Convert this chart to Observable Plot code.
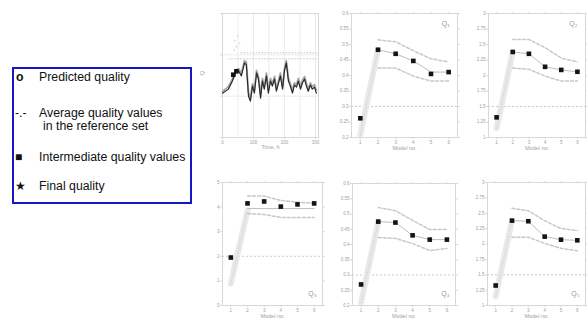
<!DOCTYPE html>
<html><head><meta charset="utf-8">
<script src="https://cdn.jsdelivr.net/npm/d3@7"></script>
<script src="https://cdn.jsdelivr.net/npm/@observablehq/plot@0.6"></script>
<style>
html,body{margin:0;padding:0;background:#fff;}
body{width:587px;height:321px;position:relative;overflow:hidden;font-family:"Liberation Sans",Arial,sans-serif;}
.panel{position:absolute;}
#legend{position:absolute;left:12px;top:67px;width:176px;height:133px;border:2px solid #1616c4;}
.li{position:absolute;font-size:12.3px;line-height:13px;color:#111;white-space:nowrap;}
</style></head><body>
<div id="legend"></div>
<div class="li" style="left:16px;top:71px;font-weight:bold;">o</div>
<div class="li" style="left:39px;top:71px;">Predicted quality</div>
<div class="li" style="left:15px;top:107px;">-.-</div>
<div class="li" style="left:39px;top:107px;">Average quality values</div>
<div class="li" style="left:43px;top:120px;">in the reference set</div>
<div class="li" style="left:15px;top:151px;font-size:12px;">■</div>
<div class="li" style="left:39px;top:151px;">Intermediate quality values</div>
<div class="li" style="left:15px;top:180px;font-size:12px;">★</div>
<div class="li" style="left:39px;top:180px;">Final quality</div>
<div id="p1" class="panel" style="left:190px;top:0px"></div>
<div id="p2" class="panel" style="left:330px;top:0px"></div>
<div id="p3" class="panel" style="left:460px;top:0px"></div>
<div id="p4" class="panel" style="left:190px;top:160px"></div>
<div id="p5" class="panel" style="left:330px;top:160px"></div>
<div id="p6" class="panel" style="left:460px;top:160px"></div>
<script>
// ---------- Data: time series panel ----------
const timeH = [0,19,32,42,52,61,71,77,84,90,97,103,110,116,123,129,135,142,148,155,161,168,174,181,187,194,200,206,213,219,226,232,239,245,252,258,265,271,277,284,290,297,303];
const measuredQ = [0.118,0.148,0.232,0.364,0.407,0.308,0.638,0.570,0.100,0.076,0.175,0.118,0.364,0.260,0.089,0.232,0.148,0.308,0.118,0.232,0.175,0.260,0.132,0.208,0.308,0.148,0.407,0.638,0.232,0.175,0.118,0.186,0.166,0.232,0.148,0.208,0.260,0.175,0.132,0.186,0.148,0.166,0.118];
const predictedQ = [0.13,0.17,0.26,0.42,0.46,0.36,0.72,0.66,0.12,0.09,0.20,0.14,0.42,0.30,0.11,0.27,0.17,0.36,0.14,0.27,0.20,0.30,0.15,0.24,0.36,0.17,0.47,0.72,0.27,0.20,0.14,0.21,0.19,0.27,0.17,0.24,0.30,0.20,0.15,0.21,0.17,0.19,0.14];
const scatterT = [38,40,45,50,55];
const scatterQ = [1.3,2.2,1.6,2.8,1.9];
const blobT = [35,45];
const blobQ = [0.33,0.40];
const refLevelsQ = [0.8,1.12];
const refStartT = [20,60];
const refEndT = [310,310];
const timeTicks = [0,100,200,300];
const timeGrid = [0,50,100,150,200,250,300];
const decadeTicks = [0.01,0.1,1,10];
const decadeLabels = ["10⁻²","10⁻¹","10⁰","10¹"];

// ---------- Data: model panels ----------
const models = [1,2,3,4,5,6];
const bandModels = [2,3,4,5,6];
const panelLabels = ["Q₁","Q₂","Q₃","Q₄","Q₅"];

const q1Pts = [0.262,0.483,0.470,0.447,0.405,0.411];
const q1Up = [0.515,0.509,0.480,0.454,0.444];
const q1Lo = [0.424,0.424,0.398,0.382,0.382];
const q1Line = [0.483,0.470,0.447,0.411,0.411];
const q1Pred = [0.21,0.483];
const q1Ref = 0.30;

const q2Pts = [1.325,2.38,2.35,2.14,2.09,2.06];
const q2Up = [2.58,2.58,2.45,2.28,2.22];
const q2Lo = [2.12,2.10,1.99,1.91,1.91];
const q2Line = [2.38,2.35,2.14,2.09,2.06];
const q2Pred = [1.15,2.38];
const q2Ref = 1.5;

const q3Pts = [1.95,4.15,4.23,4.02,4.11,4.15];
const q3Up = [4.45,4.45,4.27,4.20,4.15];
const q3Lo = [3.74,3.70,3.58,3.58,3.58];
const q3Line = [3.94,3.94,3.94,3.94,3.94];
const q3Pred = [0.89,3.86];
const q3Ref = 2;

const q4Pts = [0.269,0.475,0.472,0.430,0.416,0.416];
const q4Up = [0.521,0.511,0.479,0.449,0.449];
const q4Lo = [0.423,0.420,0.403,0.380,0.387];
const q4Line = [0.475,0.472,0.430,0.416,0.416];
const q4Pred = [0.21,0.475];
const q4Ref = 0.30;

const q5Pts = [1.325,2.38,2.37,2.12,2.07,2.06];
const q5Up = [2.58,2.54,2.38,2.25,2.22];
const q5Lo = [2.11,2.11,2.01,1.93,1.89];
const q5Line = [2.38,2.37,2.12,2.07,2.06];
const q5Pred = [1.15,2.38];
const q5Ref = 1.5;

const ticksA = [0.2,0.25,0.3,0.35,0.4,0.45,0.5,0.55,0.6];
const ticksB = [1,1.25,1.5,1.75,2,2.25,2.5,2.75,3];
const ticksC = [0,1,2,3,4,5];

const TXT = "#a0a0a0";
const FRAME = "#d8d8d8";
const baseStyle = {fontSize:"4.5px", fontFamily:"Liberation Sans, Arial, sans-serif", color:TXT, background:"transparent", overflow:"visible"};
const fmt = d => String(+d.toFixed(2));

// ---------- Panel 1: time series ----------
{
  const main = timeH.map((t,i)=>({t, q:measuredQ[i]}));
  const pred = timeH.map((t,i)=>({t, q:predictedQ[i]}));
  const scat = scatterT.map((t,i)=>({t, q:scatterQ[i]}));
  const blobs = blobT.map((t,i)=>({t, q:blobQ[i]}));
  const refs = refLevelsQ.map((q,i)=>({q, t1:refStartT[i], t2:refEndT[i]}));
  const p = Plot.plot({
    width:135, height:160, marginLeft:32, marginRight:7, marginTop:13, marginBottom:23,
    x:{domain:[0,310]}, y:{type:"log", domain:[0.01,10]},
    style: baseStyle,
    marks:[
      Plot.gridX(timeGrid, {stroke:"#ebebeb", strokeOpacity:1}),
      Plot.gridY(decadeTicks, {stroke:"#ebebeb", strokeOpacity:1}),
      Plot.frame({stroke:FRAME}),
      Plot.axisX({ticks:timeTicks, tickSize:2, tickPadding:1, tickFormat:d3.format("d"), label:null, stroke:FRAME}),
      Plot.axisY({ticks:decadeTicks, tickFormat:(d,i)=>decadeLabels[i], tickSize:2, tickPadding:1, label:null, stroke:FRAME}),
      Plot.ruleY(refs, {y:"q", x1:"t1", x2:"t2", stroke:"#c4c4c4", strokeDasharray:"1.5,1.5"}),
      Plot.dot(scat, {x:"t", y:"q", r:0.8, fill:"#d0d0d0"}),
      Plot.line(pred, {x:"t", y:"q", stroke:"#a8a8a8", strokeWidth:1.8}),
      Plot.line(main, {x:"t", y:"q", stroke:"#2a2a2a", strokeWidth:1.2}),
      Plot.dot(blobs, {x:"t", y:"q", symbol:"square", r:2.6, fill:"#111"}),
      Plot.text(["Time, h"], {frameAnchor:"bottom", dy:11, fill:TXT, fontSize:5.5}),
      Plot.text(["Q"], {frameAnchor:"left", dx:-20, rotate:-90, fill:TXT, fontSize:6})
    ]
  });
  document.getElementById("p1").append(p);
}

// ---------- Model panels ----------
function modelPanel(id, cfg){
  const pts = models.map((m,i)=>({m, v:cfg.pts[i]}));
  const up = bandModels.map((m,i)=>({m, v:cfg.up[i]}));
  const lo = bandModels.map((m,i)=>({m, v:cfg.lo[i]}));
  const ln = bandModels.map((m,i)=>({m, v:cfg.line[i]}));
  const pr = [{m:models[0], v:cfg.pred[0]},{m:models[1], v:cfg.pred[1]}];
  const topLabel = cfg.labelAt === "top";
  const p = Plot.plot({
    width:cfg.w, height:cfg.h, marginLeft:cfg.ml, marginRight:cfg.mr, marginTop:cfg.mt, marginBottom:cfg.mb,
    x:{domain:[0.5,6.5]}, y:{domain:cfg.dom},
    style: baseStyle,
    marks:[
      Plot.frame({stroke:FRAME}),
      Plot.axisX({ticks:models, tickSize:2, tickPadding:1, tickFormat:d3.format("d"), label:null, stroke:FRAME}),
      Plot.axisX({anchor:"top", ticks:models, tickSize:2, tickFormat:()=>"", label:null, stroke:FRAME}),
      Plot.axisY({ticks:cfg.ticks, tickFormat:fmt, tickSize:2, tickPadding:1, label:null, stroke:FRAME}),
      Plot.axisY({anchor:"right", ticks:cfg.ticks, tickSize:2, tickFormat:()=>"", label:null, stroke:FRAME}),
      Plot.ruleY([cfg.ref], {stroke:"#cccccc", strokeDasharray:"2,2"}),
      Plot.line(pr, {x:"m", y:"v", stroke:"#e9e9e9", strokeWidth:6, strokeLinecap:"round"}),
      Plot.line(pr, {x:"m", y:"v", stroke:"#d4d4d4", strokeWidth:1, strokeDasharray:"1,2"}),
      Plot.line(up, {x:"m", y:"v", stroke:"#c8c8c8", strokeDasharray:"3,2"}),
      Plot.line(lo, {x:"m", y:"v", stroke:"#c8c8c8", strokeDasharray:"3,2"}),
      Plot.line(ln, {x:"m", y:"v", stroke:"#bdbdbd", strokeWidth:1}),
      Plot.dot(pts, {x:"m", y:"v", symbol:"square", r:2.6, fill:"#141414"}),
      Plot.text([cfg.label], topLabel
        ? {frameAnchor:"top-right", dx:-8, dy:8, fill:"#999999", fontSize:7, textAnchor:"end"}
        : {frameAnchor:"bottom-right", dx:-6, dy:-10, fill:"#999999", fontSize:7, textAnchor:"end"}),
      Plot.text(["Model no."], {frameAnchor:"bottom", dy:12, fill:TXT, fontSize:5.5})
    ]
  });
  document.getElementById(id).append(p);
}

modelPanel("p2", {w:130,h:160,ml:21,mr:3,mt:13,mb:23, dom:[0.2,0.6], ticks:ticksA, pts:q1Pts, up:q1Up, lo:q1Lo, line:q1Line, pred:q1Pred, ref:q1Ref, label:panelLabels[0], labelAt:"top"});
modelPanel("p3", {w:127,h:160,ml:28,mr:2,mt:13,mb:23, dom:[1,3], ticks:ticksB, pts:q2Pts, up:q2Up, lo:q2Lo, line:q2Line, pred:q2Pred, ref:q2Ref, label:panelLabels[1], labelAt:"top"});
modelPanel("p4", {w:135,h:161,ml:32,mr:3,mt:22,mb:16, dom:[0,5], ticks:ticksC, pts:q3Pts, up:q3Up, lo:q3Lo, line:q3Line, pred:q3Pred, ref:q3Ref, label:panelLabels[2], labelAt:"bottom"});
modelPanel("p5", {w:130,h:161,ml:22,mr:5,mt:23,mb:16, dom:[0.2,0.6], ticks:ticksA, pts:q4Pts, up:q4Up, lo:q4Lo, line:q4Line, pred:q4Pred, ref:q4Ref, label:panelLabels[3], labelAt:"bottom"});
modelPanel("p6", {w:127,h:161,ml:27,mr:2,mt:22,mb:16, dom:[1,3], ticks:ticksB, pts:q5Pts, up:q5Up, lo:q5Lo, line:q5Line, pred:q5Pred, ref:q5Ref, label:panelLabels[4], labelAt:"bottom"});
</script>
</body></html>
